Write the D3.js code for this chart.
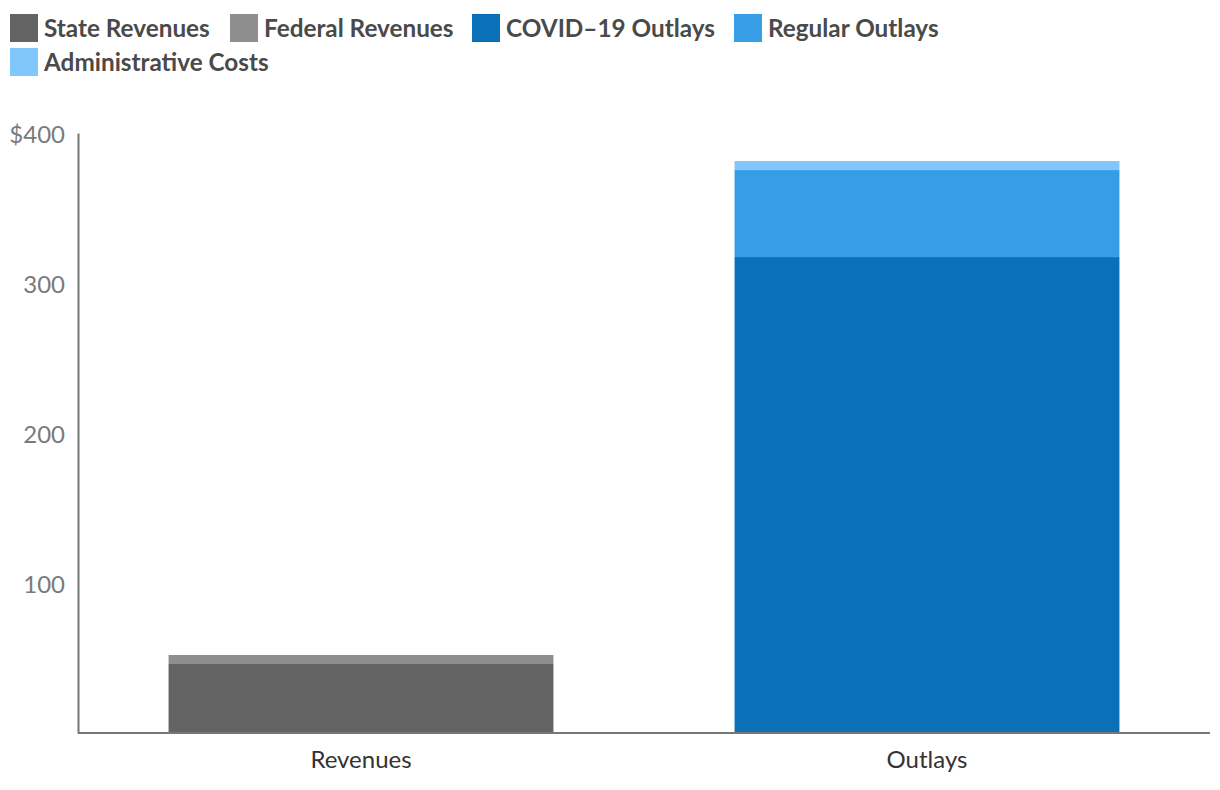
<!DOCTYPE html>
<html><head><meta charset="utf-8">
<script src="https://cdn.jsdelivr.net/npm/d3@7"></script>
<style>body{margin:0;background:#fff;font-family:Lato,sans-serif;}</style>
</head><body><svg id="c" width="1220" height="790"></svg>
<script>
const categories = ["Revenues", "Outlays"];
const seriesNames = ["State Revenues", "Federal Revenues", "COVID\u201319 Outlays", "Regular Outlays", "Administrative Costs"];
const seriesColors = ["#636363", "#8e8e8e", "#0a71b9", "#379ee6", "#82c7fc"];
const stateRevenues = [46, 0];
const federalRevenues = [6, 0];
const covidOutlays = [0, 317.3];
const regularOutlays = [0, 58];
const adminCosts = [0, 6];
const tickValues = [100, 200, 300, 400];

const svg = d3.select("#c");
const m = {l: 78, r: 10, t: 133, b: 57};
const W = 1220, H = 790;
const x = d3.scaleBand().domain(categories).range([m.l, W - m.r]).paddingInner(0.32).paddingOuter(0.16);
const y = d3.scaleLinear().domain([0, 400]).range([H - m.b, m.t]);

const rows = categories.map((c, i) => ({cat: c, s0: stateRevenues[i], s1: federalRevenues[i], s2: covidOutlays[i], s3: regularOutlays[i], s4: adminCosts[i]}));
const stack = d3.stack().keys(["s0","s1","s2","s3","s4"])(rows);
stack.forEach((layer, k) => {
  svg.append("g").selectAll("rect").data(layer).join("rect")
    .attr("x", d => x(d.data.cat)).attr("width", x.bandwidth())
    .attr("y", d => y(d[1])).attr("height", d => y(d[0]) - y(d[1]))
    .attr("fill", seriesColors[k]);
});

// y axis
const ya = svg.append("g").attr("transform", `translate(${m.l},0)`)
  .call(d3.axisLeft(y).tickValues(tickValues).tickSize(0).tickPadding(13).tickFormat(d => d === 400 ? "$400" : d));
ya.select(".domain").attr("stroke", "#777").attr("stroke-width", 2);
ya.selectAll("text").attr("font-family", "Lato").attr("font-size", 24).attr("fill", "#7a7a7a").attr("dy", "0.4em");

// x axis
const xa = svg.append("g").attr("transform", `translate(0,${H - m.b})`)
  .call(d3.axisBottom(x).tickSize(0).tickPadding(18));
xa.select(".domain").attr("stroke", "#777").attr("stroke-width", 2).attr("d", `M${m.l},0H${W - m.r}`);
xa.selectAll("text").attr("font-family", "Lato").attr("font-size", 24).attr("fill", "#333");

// legend
const legX = [10, 230, 472, 734, 10];
const legY = [14, 14, 14, 14, 48];
const lg = svg.append("g");
seriesNames.forEach((n, i) => {
  lg.append("rect").attr("x", legX[i]).attr("y", legY[i]).attr("width", 28).attr("height", 28).attr("fill", seriesColors[i]);
  lg.append("text").attr("x", legX[i] + 34).attr("y", legY[i] + 14).attr("dy", "0.36em")
    .attr("font-family", "Lato").attr("font-weight", "bold").attr("font-size", 24.3).attr("fill", "#4a4a4a").text(n);
});
</script></body></html>
